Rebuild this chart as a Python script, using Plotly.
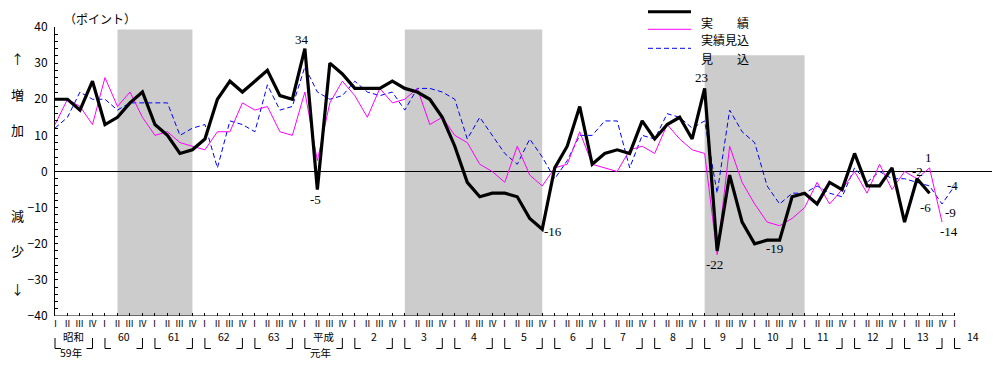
import plotly.graph_objects as go

# ---------------- data ----------------
year_labels = ["59", "60", "61", "62", "63", "元", "2", "3", "4", "5", "6",
               "7", "8", "9", "10", "11", "12", "13", "14"]
era_names = {"59": ("昭和", "59年"), "元": ("平成", "元年")}
quarter_marks = ["Ⅰ", "Ⅱ", "Ⅲ", "Ⅳ"]
quarters = [f"{y}{q}" for y in year_labels[:-1] for q in quarter_marks] + ["14Ⅰ"]

# 実績 (actual)
actual = [20, 20, 17, 25, 13, 15, 19, 22, 13, 10, 5, 6, 9, 20, 25, 22, 25, 28, 21, 20,
          34, -5, 30, 27, 23, 23, 23, 25, 23, 22, 20, 15, 7, -3, -7, -6, -6, -7, -13, -16,
          1, 7, 18, 2, 5, 6, 5, 14, 9, 13, 15, 9, 23, -22, -1, -14, -20, -19, -19, -7,
          -6, -9, -3, -5, 5, -4, -4, 1, -14, -2, -6]
# 実績見込 (estimated actual)
actual_est = [13, 20, 18, 13, 26, 18, 22, 15, 10, 11, 8, 7, 6, 11, 11, 19, 17, 18, 11, 10,
              22, 3, 19, 25, 21, 15, 23, 19, 20, 23, 13, 15, 10, 8, 2, 0, -3, 7, -1, -4,
              1, 2, 11, 2, 1, 0, 6, 7, 5, 13, 9, 6, 5, -23, 7, -3, -9, -14, -15, -13,
              -10, -3, -9, -5, 0, -6, 2, -5, 0, -2, 1, -14]
# 見込 (forecast)
forecast = [12, 15, 22, 20, 20, 17, 19, 19, 19, 19, 10, 12, 13, 1, 14, 13, 11, 24, 17, 18,
            29, 22, 20, 21, 25, 22, 21, 22, 17, 23, 23, 22, 20, 9, 15, 10, 5, 2, 9, 4,
            -2, 3, 10, 10, 14, 14, 1, 10, 9, 16, 15, 12, 14, -6, 17, 11, 8, -4, -9, -6,
            -6, -4, -6, -7, 1, -3, 0, -2, -2, -3, -4, -9, -4]

# shaded periods (start quarter, end quarter)
recessions = [("60Ⅱ", "61Ⅳ"), ("3Ⅰ", "5Ⅳ"), ("9Ⅰ", "11Ⅰ")]
shade_tops = [39.3, 39.3, 32.2]

# labelled points: (series, quarter, xshift, yshift)
labelled = [("actual", "元Ⅰ", -3, 9), ("actual", "元Ⅱ", -2, -10),
            ("actual", "5Ⅳ", 11, -2), ("actual", "9Ⅰ", -3, 11),
            ("actual", "9Ⅱ", -3, -14), ("actual", "10Ⅲ", -5, -8),
            ("actual", "13Ⅱ", 0, 7), ("actual_est", "13Ⅲ", -1, 10),
            ("actual", "13Ⅲ", -4, -14), ("forecast", "14Ⅰ", -2, 0),
            ("forecast", "13Ⅳ", 8, -8), ("actual_est", "13Ⅳ", 7, -9)]

# ---------------- layout helpers ----------------
OFF = 8                      # page body margin
W, H = 1000 - OFF, 367 - OFF
L, R, T, B = 47, 8, 19, 51
PW, PH = W - L - R, H - T - B
XMIN, XMAX = 0, 75
YMIN, YMAX = -40, 40


def px(xpage):
    return (xpage - OFF - L) / PW


def py(ypage):
    return 1 - (ypage - OFF - T) / PH


def qx(i):
    return (i - XMIN) / (XMAX - XMIN)


series = {"actual": actual, "actual_est": actual_est, "forecast": forecast}
idx = {q: i for i, q in enumerate(quarters)}
JP = "Noto Sans CJK JP"

fig = go.Figure()
fig.add_trace(go.Scatter(x=list(range(len(forecast))), y=forecast, mode="lines",
                         line=dict(color="#0000ff", width=1, dash="5px,3px"), name="見込"))
fig.add_trace(go.Scatter(x=list(range(len(actual_est))), y=actual_est, mode="lines",
                         line=dict(color="#ff00ff", width=1), name="実績見込"))
fig.add_trace(go.Scatter(x=list(range(len(actual))), y=actual, mode="lines",
                         line=dict(color="#000000", width=3.2), name="実績"))

shapes = []
for (a, b), top in zip(recessions, shade_tops):
    shapes.append(dict(type="rect", xref="x", yref="y", x0=idx[a], x1=idx[b],
                       y0=YMIN, y1=top, fillcolor="#cccccc", line=dict(width=0),
                       layer="below"))
# bottom axis line (only to last quarter)
shapes.append(dict(type="line", xref="x", yref="y", x0=0, x1=len(quarters) - 1,
                   y0=YMIN, y1=YMIN, line=dict(color="black", width=1)))

annotations = []
# quarter numerals
for i, q in enumerate(quarters):
    annotations.append(dict(x=i, xref="x", y=py(330.5), yref="paper", text=q[-1],
                            showarrow=False, borderpad=0,
                            font=dict(family=JP, size=9, color="black")))
# year brackets
for k, y in enumerate(year_labels):
    s = 4 * k
    e = s + 3
    bot, topb = 348.5, 338
    shapes.append(dict(type="line", xref="paper", yref="paper", x0=qx(s), x1=qx(s),
                       y0=py(topb), y1=py(bot), line=dict(color="black", width=1)))
    shapes.append(dict(type="line", xref="paper", yref="paper", x0=qx(s),
                       x1=qx(s) + 6 / PW, y0=py(bot), y1=py(bot),
                       line=dict(color="black", width=1)))
    name = era_names.get(y, (y, None))[0]
    if y != "14":
        shapes.append(dict(type="line", xref="paper", yref="paper", x0=qx(e), x1=qx(e),
                           y0=py(topb), y1=py(bot), line=dict(color="black", width=1)))
        shapes.append(dict(type="line", xref="paper", yref="paper", x0=qx(e) - 6 / PW,
                           x1=qx(e), y0=py(bot), y1=py(bot),
                           line=dict(color="black", width=1)))
    annotations.append(dict(x=s + 1.5, xref="x", y=py(345), yref="paper", text=name,
                            showarrow=False, borderpad=0,
                            font=dict(family=JP, size=10.5, color="black")))
    if y in era_names:
        annotations.append(dict(x=s + 1.25, xref="x", y=py(361), yref="paper",
                                text=era_names[y][1], showarrow=False, borderpad=0,
                                font=dict(family=JP, size=10.5, color="black")))

# data labels
for key, q, dx, dy in labelled:
    i = idx[q]
    v = series[key][i]
    annotations.append(dict(x=i, y=v, xref="x", yref="y", text=str(v), showarrow=False,
                            xshift=dx, yshift=dy,
                            font=dict(family="Liberation Serif", size=13, color="black")))

# unit & side labels
annotations.append(dict(x=px(62), y=py(8), xref="paper", yref="paper", text="（ポイント）",
                        showarrow=False, font=dict(family=JP, size=12, color="black")))
for ch, yy in [("↑", 47), ("増", 83), ("加", 118), ("減", 227), ("少", 262), ("↓", 300)]:
    annotations.append(dict(x=px(9), y=py(yy), xref="paper", yref="paper", text=ch,
                            showarrow=False, font=dict(family=JP, size=13, color="black")))

# manual legend
leg = [("実　　績", "#000000", 3, "solid", 11.7),
       ("実績見込", "#ff00ff", 1, "solid", 29.3),
       ("見　　込", "#0000ff", 1, "5px,3px", 48.3)]
for text, col, wd, dash, yy in leg:
    shapes.append(dict(type="line", xref="paper", yref="paper", x0=px(648), x1=px(691),
                       y0=py(yy), y1=py(yy), line=dict(color=col, width=wd, dash=dash)))
    annotations.append(dict(x=px(699), y=py(yy), xref="paper", yref="paper", text=text,
                            xanchor="left", showarrow=False,
                            font=dict(family=JP, size=12, color="black")))

fig.update_layout(
    width=W, height=H, margin=dict(l=L, r=R, t=T, b=B, pad=0),
    paper_bgcolor="white", plot_bgcolor="white", showlegend=False,
    shapes=shapes, annotations=annotations,
    xaxis=dict(range=[XMIN, XMAX], tickvals=list(range(len(quarters))), ticks="inside",
               ticklen=3, tickcolor="black", showticklabels=False, showgrid=False,
               zeroline=False, showline=False),
    yaxis=dict(range=[YMIN, YMAX], tick0=0, dtick=10, ticks="inside", ticklen=3,
               tickcolor="black", showline=True, linecolor="black", linewidth=1,
               showgrid=False, zeroline=True, zerolinecolor="black", zerolinewidth=1,
               minor=dict(dtick=2, ticks="inside", ticklen=3, tickcolor="black"),
               tickfont=dict(family=JP, size=12, color="black"), ticklabelstandoff=4),
)

fig.write_html("out.html")
